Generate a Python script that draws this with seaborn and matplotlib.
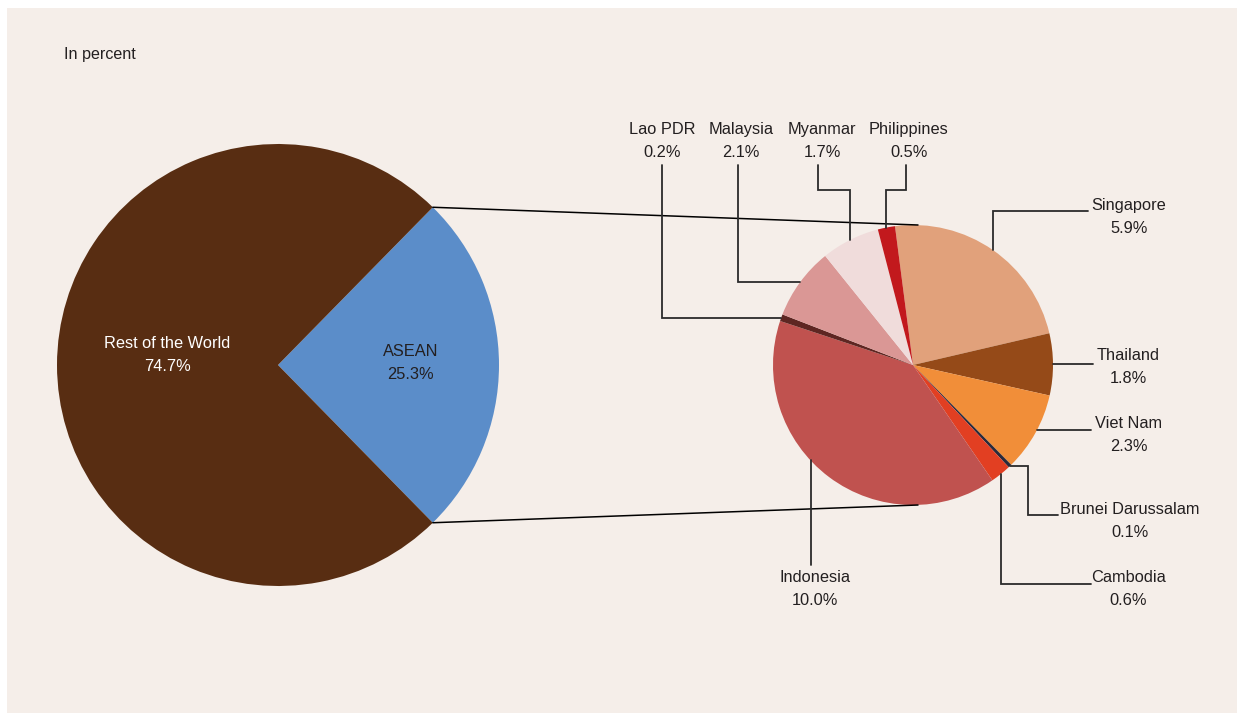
import numpy as np
import matplotlib
matplotlib.use("Agg")
import matplotlib.pyplot as plt
import seaborn as sns
from matplotlib.patches import Rectangle

# Share of total, in percent
world_labels = ["ASEAN", "Rest of the World"]
world_values = [25.3, 74.7]

asean_members = ["Singapore", "Thailand", "Viet Nam", "Brunei Darussalam", "Cambodia",
                 "Indonesia", "Lao PDR", "Malaysia", "Myanmar", "Philippines"]
asean_values = [5.9, 1.8, 2.3, 0.1, 0.6, 10.0, 0.2, 2.1, 1.7, 0.5]

world_colors = ["#5b8dc9", "#582d12"]
asean_colors = sns.color_palette(["#e1a17b", "#954a18", "#f18e39", "#2a2a3a", "#e23f22",
                                  "#c0524f", "#5e2622", "#da9795", "#f0dcdb", "#c2191d"])

sns.set_style("white")
plt.rcParams["font.family"] = ["Liberation Sans", "DejaVu Sans"]

W, H = 1244, 721
fig = plt.figure(figsize=(W / 100, H / 100), dpi=100, facecolor="white")
ax = fig.add_axes([0, 0, 1, 1])

ink = "#231f20"
bg = "#f5eee9"
ax.add_patch(Rectangle((7, 8), 1230, 705, facecolor=bg, edgecolor="none", zorder=0))

# Left pie: world split
lc, lr = (278, 356), 221
ang0 = -world_values[0] * 3.6 / 2
ax.pie(world_values, colors=world_colors, startangle=ang0, counterclock=True,
       center=lc, radius=lr, wedgeprops=dict(linewidth=0), frame=True)

# Right pie: ASEAN members
rc, rr = (913, 356), 140
r_start = 97.4
ax.pie(asean_values, colors=asean_colors, startangle=r_start, counterclock=False,
       center=rc, radius=rr, wedgeprops=dict(linewidth=0), frame=True)

# Labels inside the left pie
fs = 11.8
ls = 1.6
ax.text(lc[0] + 0.6 * lr, lc[1] + 2, f"{world_labels[0]}\n{world_values[0]}%",
        ha="center", va="center", fontsize=fs, color=ink, linespacing=ls)
ax.text(lc[0] - 0.5 * lr, lc[1] + 10, f"{world_labels[1]}\n{world_values[1]}%",
        ha="center", va="center", fontsize=fs, color="white", linespacing=ls)

# Connectors between the two pies
a1 = np.deg2rad(ang0 + world_values[0] * 3.6)
a0 = np.deg2rad(ang0)
for a, sgn in ((a1, 1), (a0, -1)):
    p = (lc[0] + lr * np.cos(a), lc[1] + lr * np.sin(a))
    q = (rc[0] + 5, rc[1] + sgn * rr)
    ax.plot([p[0], q[0]], [p[1], q[1]], color="black", lw=1.1, zorder=5)

# Mid angles of the member wedges
total = sum(asean_values)
mids = {}
cur = r_start
for name, v in zip(asean_members, asean_values):
    span = v / total * 360
    mids[name] = cur - span / 2
    cur -= span


def edge(angle):
    a = np.deg2rad(angle)
    return rc[0] + rr * np.cos(a), rc[1] + rr * np.sin(a)


def Y(py):
    return H - py


# Leader routes (pixel layout beyond the anchor point) and label centres
layout = {
    "Singapore": (mids["Singapore"], [("v", Y(211)), ("h", 1088)], (1129, Y(217))),
    "Thailand": (mids["Thailand"], [("h", 1093)], (1128, Y(367))),
    "Viet Nam": (mids["Viet Nam"] + 1.5, [("h", 1091)], (1129, Y(435))),
    "Brunei Darussalam": (mids["Brunei Darussalam"],
                          [("h", 1028), ("v", Y(515)), ("h", 1058)], (1130, Y(521))),
    "Cambodia": (mids["Cambodia"], [("v", Y(584)), ("h", 1091)], (1128, Y(589))),
    "Indonesia": (223.0, [("v", Y(565))], (815, Y(589))),
    "Lao PDR": (mids["Lao PDR"], [("h", 662), ("v", Y(165))], (662, Y(141))),
    "Malaysia": (mids["Malaysia"], [("h", 738), ("v", Y(165))], (741, Y(141))),
    "Myanmar": (mids["Myanmar"], [("v", Y(190)), ("h", 818), ("v", Y(165))], (822, Y(141))),
    "Philippines": (mids["Philippines"], [("v", Y(190)), ("h", 906), ("v", Y(165))], (909, Y(141))),
}

for name, v in zip(asean_members, asean_values):
    ang, route, (tx, ty) = layout[name]
    x, y = edge(ang)
    xs, ys = [x], [y]
    for kind, val in route:
        if kind == "h":
            x = val
        else:
            y = val
        xs.append(x)
        ys.append(y)
    ax.plot(xs, ys, color="#2b2b2b", lw=1.3, zorder=6, solid_joinstyle="miter")
    ax.text(tx, ty, f"{name}\n{v}%", ha="center", va="center", fontsize=fs,
            color=ink, linespacing=ls, zorder=7)

ax.text(64, Y(55), "In percent", ha="left", va="center", fontsize=11.6, color=ink)

ax.set_xlim(0, W)
ax.set_ylim(0, H)
ax.set_aspect("equal")
ax.axis("off")

fig.savefig("out.png", dpi=100, facecolor="white")
